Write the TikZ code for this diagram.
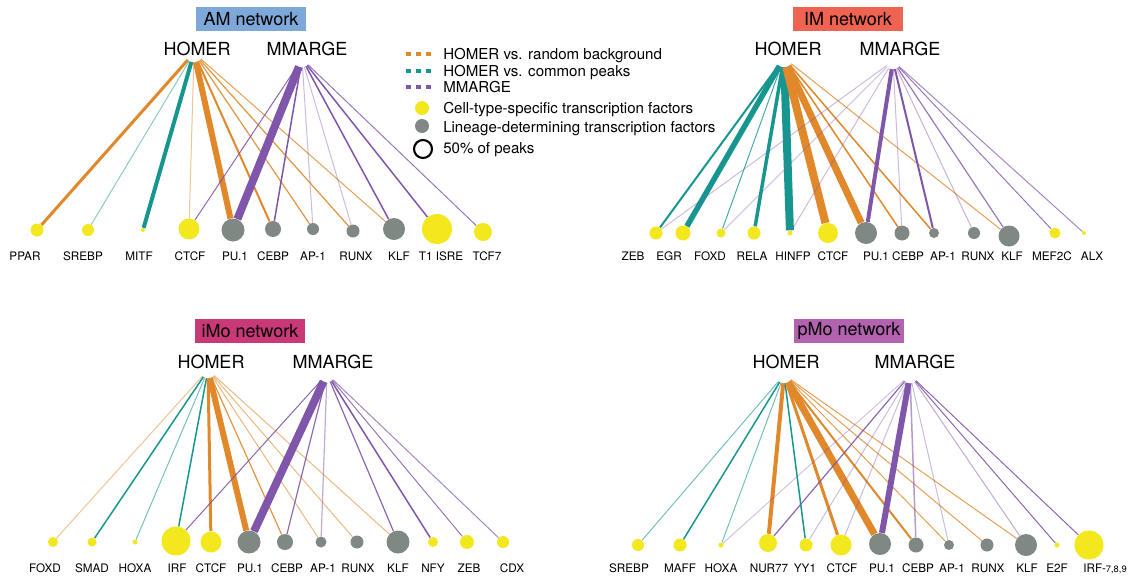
\documentclass[tikz,border=0pt]{standalone}
\usepackage{fontspec}
\setmainfont{TeX Gyre Heros}
\usetikzlibrary{backgrounds}
\definecolor{AMBlue}{HTML}{7EA8DA}
\definecolor{IMRed}{HTML}{EE6352}
\definecolor{IMoPink}{HTML}{C93877}
\definecolor{PMoOrchid}{HTML}{B262AE}
\definecolor{RandOrange}{HTML}{E0882A}
\definecolor{CommonTeal}{HTML}{17968F}
\definecolor{MmargePurple}{HTML}{7F56A9}
\definecolor{TFYellow}{HTML}{F3E81E}
\definecolor{TFGray}{HTML}{7F8883}

\begin{document}
\begin{tikzpicture}[
    x=0.75pt, y=-0.75pt,
    nettitle/.style={
      rectangle, minimum width=82.5pt, minimum height=18pt,
      inner sep=0pt, font=\fontsize{13.5}{15}\selectfont
    },
    method/.style={font=\fontsize{13.5}{15}\selectfont, inner sep=0pt, anchor=base},
    hub/.style={circle, inner sep=0pt, minimum size=#1*1.5pt},
    ytf/.style={circle, fill=TFYellow, inner sep=0pt, minimum size=#1*0.75pt},
    gtf/.style={circle, fill=TFGray, inner sep=0pt, minimum size=#1*0.75pt},
    tflabel/.style={font=\fontsize{8.8}{10}\selectfont, inner sep=0pt, anchor=base},
    legtext/.style={font=\fontsize{11.3}{13}\selectfont, inner sep=0pt, anchor=base west},
    homerbg/.style={draw=RandOrange},
    homercp/.style={draw=CommonTeal},
    mmarge/.style={draw=MmargePurple},
    legdash/.style={line width=2.6pt, dash pattern=on 4.1pt off 3.4pt}
  ]
  \useasboundingbox (0,0) rectangle (1138,575);

  % panel titles
  \node[nettitle, fill=AMBlue]     (amT) at (251,19)  {AM network};
  \node[nettitle, fill=IMRed]      (imT) at (848,19)  {IM network};
  \node[nettitle, fill=IMoPink]    (ioT) at (250,331) {iMo network};
  \node[nettitle, fill=PMoOrchid]  (pmT) at (849,331) {pMo network};

  % motif tools
  \node[method] (amHt) at (197,55.5)  {HOMER};
  \node[method] (amMt) at (307,55.5)  {MMARGE};
  \node[method] (imHt) at (788,55.5)  {HOMER};
  \node[method] (imMt) at (900,55.5)  {MMARGE};
  \node[method] (ioHt) at (211,368.5) {HOMER};
  \node[method] (ioMt) at (333,368.5) {MMARGE};
  \node[method] (pmHt) at (786,368.5) {HOMER};
  \node[method] (pmMt) at (915,368.5) {MMARGE};

  % hubs the edges leave from
  \node[hub=9] (amH) at (194,53)  {};
  \node[hub=8] (amM) at (302,59)  {};
  \node[hub=9] (imH) at (784,58)  {};
  \node[hub=8] (imM) at (893,61)  {};
  \node[hub=8] (ioH) at (208,370) {};
  \node[hub=8] (ioM) at (327,374) {};
  \node[hub=8] (pmH) at (784,375) {};
  \node[hub=8] (pmM) at (910,375) {};

  % AM factors
  \foreach \i/\x/\y/\d/\c/\lx/\t in {
      1/37/230/13/ytf/25/PPAR, 2/88/230/12/ytf/83/SREBP, 3/143/230/4/ytf/139/MITF,
      4/189/229/21/ytf/190/CTCF, 5/233/230/23/gtf/235/PU.1, 6/273/229/16/gtf/273/CEBP,
      7/313/229/12/gtf/313/AP-1, 8/353/231/13/gtf/356/RUNX, 9/394/229/22/gtf/399/KLF,
      10/437/229/30/ytf/441/T1 ISRE, 11/483/232/18/ytf/487/TCF7}{
    \node[\c=\d] (am\i) at (\x,\y) {};
    \node[tflabel] (am\i t) at (\lx,260) {\t};
  }

  % IM factors
  \foreach \i/\x/\y/\d/\c/\lx/\t in {
      1/656/233/13/ytf/633/ZEB, 2/683/233/15/ytf/669/EGR, 3/721/233/9/ytf/710/FOXD,
      4/754/233/13/ytf/752/RELA, 5/790/233/5/ytf/793/HINFP, 6/828/233/20/ytf/833/CTCF,
      7/866/233/22/gtf/876/PU.1, 8/902/233/15/gtf/908/CEBP, 9/934/233/10/gtf/943/AP-1,
      10/974/233/12/gtf/978/RUNX, 11/1009/236/21/gtf/1012/KLF,
      12/1055/233/11/ytf/1052/MEF2C, 13/1084/233/4/ytf/1092/ALX}{
    \node[\c=\d] (im\i) at (\x,\y) {};
    \node[tflabel] (im\i t) at (\lx,260) {\t};
  }

  % iMo factors
  \foreach \i/\x/\y/\d/\c/\lx/\t in {
      1/53/542/10/ytf/45/FOXD, 2/92/542/9/ytf/92/SMAD, 3/135/542/5/ytf/135/HOXA,
      4/176/541/29/ytf/177/IRF, 5/211/542/21/ytf/211/CTCF, 6/249/542/23/gtf/250/PU.1,
      7/285/542/16/gtf/287/CEBP, 8/321/542/11/gtf/323/AP-1, 9/357/542/13/gtf/358/RUNX,
      10/398/542/23/gtf/398/KLF, 11/433/542/10/ytf/433/NFY, 12/467/542/14/ytf/469/ZEB,
      13/503/542/12/ytf/512/CDX}{
    \node[\c=\d] (io\i) at (\x,\y) {};
    \node[tflabel] (io\i t) at (\lx,572) {\t};
  }

  % pMo factors
  \foreach \i/\x/\y/\d/\c/\lx/\t in {
      1/638/545/12/ytf/629/SREBP, 2/680/545/13/ytf/680/MAFF, 3/721/545/5/ytf/721/HOXA,
      4/768/543/18/ytf/769/NUR77, 5/806/545/13/ytf/805/YY1, 6/841/545/21/ytf/842/CTCF,
      7/880/544/22/gtf/882/PU.1, 8/916/545/15/gtf/918/CEBP, 9/949/545/10/gtf/952/AP-1,
      10/987/545/13/gtf/988/RUNX, 11/1026/545/22/gtf/1027/KLF, 12/1057/545/5/ytf/1057/E2F,
      13/1089/545/29/ytf/1105/{IRF-{\fontsize{7}{8}\selectfont 7,8,9}}}{
    \node[\c=\d] (pm\i) at (\x,\y) {};
    \node[tflabel] (pm\i t) at (\lx,572) {\t};
  }

  % edges under the circles
  \begin{scope}[on background layer]
    \foreach \a/\b/\s/\w/\o in {
        amH/am1/homerbg/3/1, amH/am2/homercp/1/.5, amH/am3/homercp/4/1,
        amH/am4/homerbg/1/.5, amH/am5/homerbg/6/1, amH/am6/homerbg/2/1,
        amH/am7/homerbg/1.2/.9, amH/am8/homerbg/1.2/.9, amH/am9/homerbg/1/.8,
        amM/am4/mmarge/1/.9, amM/am5/mmarge/8/1, amM/am6/mmarge/1.5/1,
        amM/am7/mmarge/1/.4, amM/am8/mmarge/1/.4, amM/am9/mmarge/1.5/1,
        amM/am10/mmarge/1.5/1, amM/am11/mmarge/1/.8,
        imH/im1/homercp/2/1, imH/im2/homercp/5.5/1, imH/im3/homercp/1/.8,
        imH/im4/homercp/3.5/1, imH/im5/homercp/8/1, imH/im6/homerbg/8/1,
        imH/im7/homerbg/7/1, imH/im8/homerbg/1.5/1, imH/im9/homerbg/1.5/1,
        imH/im11/homerbg/1/.8,
        imM/im1/mmarge/1/.4, imM/im3/mmarge/1/.4, imM/im5/mmarge/1/.4,
        imM/im7/mmarge/4/1, imM/im8/mmarge/1/.4, imM/im9/mmarge/2/1,
        imM/im10/mmarge/1/.45, imM/im11/mmarge/1.2/.8, imM/im12/mmarge/1/.8,
        imM/im13/mmarge/1/.7,
        ioH/io1/homerbg/1/.5, ioH/io2/homercp/1.5/1, ioH/io3/homercp/1/.6,
        ioH/io4/homercp/1.5/1, ioH/io5/homerbg/3/1, ioH/io6/homerbg/6/1,
        ioH/io7/homerbg/1.2/.9, ioH/io8/homerbg/1/.6, ioH/io9/homerbg/1/.6,
        ioH/io10/homerbg/1/.6,
        ioM/io4/mmarge/1/.9, ioM/io6/mmarge/8/1, ioM/io7/mmarge/1.2/.9,
        ioM/io8/mmarge/1.2/.5, ioM/io10/mmarge/1.2/.9, ioM/io11/mmarge/1.5/1,
        ioM/io12/mmarge/1/.8, ioM/io13/mmarge/1/.7,
        pmH/pm1/homercp/1/.6, pmH/pm2/homercp/1.5/1, pmH/pm3/homercp/1/.6,
        pmH/pm4/homerbg/4/1, pmH/pm5/homercp/1.5/1, pmH/pm6/homerbg/3/1,
        pmH/pm7/homerbg/7/1, pmH/pm8/homerbg/2/1, pmH/pm9/homerbg/1/.8,
        pmH/pm10/homerbg/1/.8, pmH/pm11/homerbg/1/.8,
        pmM/pm3/mmarge/1/.35, pmM/pm4/mmarge/1.2/.9, pmM/pm5/mmarge/1/.4,
        pmM/pm6/mmarge/1/.4, pmM/pm7/mmarge/6/1, pmM/pm8/mmarge/1.5/.6,
        pmM/pm9/mmarge/1/.4, pmM/pm11/mmarge/1/.5, pmM/pm12/mmarge/1/.9,
        pmM/pm13/mmarge/1/.9}
      \draw[\s, line width=\w*0.75pt, draw opacity=\o] (\a) -- (\b);
  \end{scope}

  % legend
  \coordinate (lg1a) at (406,54); \coordinate (lg1b) at (432,54);
  \coordinate (lg2a) at (406,71); \coordinate (lg2b) at (432,71);
  \coordinate (lg3a) at (406,87); \coordinate (lg3b) at (432,87);
  \draw[legdash, RandOrange]   (lg1a) -- (lg1b);
  \draw[legdash, CommonTeal]   (lg2a) -- (lg2b);
  \draw[legdash, MmargePurple] (lg3a) -- (lg3b);
  \node[legtext] (lg1) at (443,59.5)  {HOMER vs. random background};
  \node[legtext] (lg2) at (443,76.5)  {HOMER vs. common peaks};
  \node[legtext] (lg3) at (443,92.5)  {MMARGE};
  \node[ytf=14] (lgY) at (422,108) {};
  \node[gtf=14] (lgG) at (422,126) {};
  \node[circle, draw=black, line width=1.6pt, inner sep=0pt,
        minimum size=18*0.75pt] (lgR) at (423,149) {};
  \node[legtext] (lg4) at (443,113.5) {Cell-type-specific transcription factors};
  \node[legtext] (lg5) at (443,132.5) {Lineage-determining transcription factors};
  \node[legtext] (lg6) at (443,153.5) {50\% of peaks};
\end{tikzpicture}
\end{document}
